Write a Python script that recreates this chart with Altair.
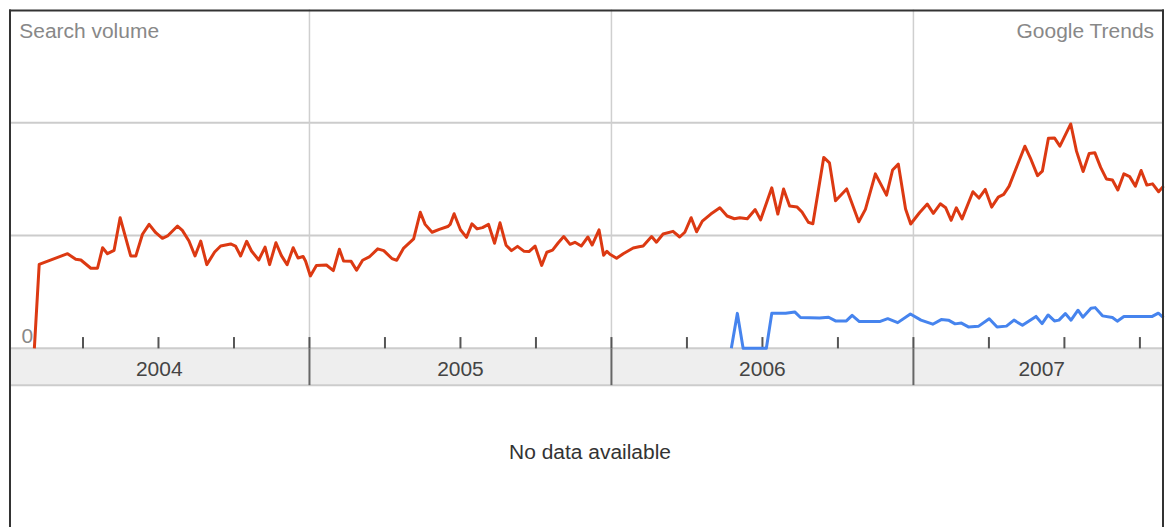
import altair as alt
import pandas as pd

# ---------------- data ----------------
red_year = [
    2004.089, 2004.105, 2004.199, 2004.226, 2004.243, 2004.276, 2004.298, 2004.315, 2004.331, 2004.353,
    2004.373, 2004.408, 2004.425, 2004.447, 2004.469, 2004.491, 2004.513, 2004.530, 2004.563, 2004.579,
    2004.601, 2004.621, 2004.640, 2004.660, 2004.686, 2004.706, 2004.739, 2004.755, 2004.772, 2004.792,
    2004.808, 2004.832, 2004.853, 2004.868, 2004.889, 2004.907, 2004.926, 2004.946, 2004.962, 2004.979,
    2004.987, 2005.003, 2005.023, 2005.056, 2005.079, 2005.099, 2005.113, 2005.138, 2005.156, 2005.176,
    2005.198, 2005.226, 2005.246, 2005.273, 2005.289, 2005.312, 2005.345, 2005.367, 2005.383, 2005.406,
    2005.430, 2005.458, 2005.466, 2005.479, 2005.500, 2005.520, 2005.538, 2005.555, 2005.573, 2005.593,
    2005.613, 2005.631, 2005.651, 2005.669, 2005.689, 2005.711, 2005.727, 2005.747, 2005.769, 2005.786,
    2005.805, 2005.824, 2005.842, 2005.863, 2005.879, 2005.900, 2005.922, 2005.936, 2005.959, 2005.974,
    2005.985, 2005.995, 2006.017, 2006.039, 2006.072, 2006.091, 2006.105, 2006.133, 2006.149, 2006.171,
    2006.204, 2006.226, 2006.243, 2006.264, 2006.282, 2006.301, 2006.329, 2006.359, 2006.383, 2006.407,
    2006.425, 2006.450, 2006.476, 2006.494, 2006.531, 2006.551, 2006.570, 2006.590, 2006.615, 2006.631,
    2006.652, 2006.667, 2006.703, 2006.722, 2006.742, 2006.779, 2006.819, 2006.841, 2006.874, 2006.911,
    2006.931, 2006.950, 2006.974, 2006.991, 2007.020, 2007.046, 2007.066, 2007.089, 2007.107, 2007.125,
    2007.142, 2007.161, 2007.197, 2007.217, 2007.238, 2007.259, 2007.281, 2007.299, 2007.317, 2007.345,
    2007.369, 2007.390, 2007.411, 2007.427, 2007.447, 2007.467, 2007.485, 2007.521, 2007.540, 2007.562,
    2007.582, 2007.601, 2007.620, 2007.639, 2007.659, 2007.677, 2007.697, 2007.716, 2007.735, 2007.754,
    2007.773, 2007.792, 2007.812, 2007.828,
]
red_volume = [
    0.000, 0.745, 0.839, 0.789, 0.783, 0.710, 0.710, 0.892, 0.839, 0.869,
    1.158, 0.819, 0.819, 1.011, 1.099, 1.025, 0.975, 0.996, 1.084, 1.046,
    0.951, 0.819, 0.951, 0.742, 0.854, 0.907, 0.925, 0.907, 0.819, 0.949,
    0.863, 0.783, 0.898, 0.742, 0.936, 0.822, 0.742, 0.892, 0.801, 0.814,
    0.774, 0.642, 0.735, 0.739, 0.689, 0.878, 0.774, 0.771, 0.692, 0.781,
    0.810, 0.882, 0.866, 0.796, 0.781, 0.889, 0.971, 1.206, 1.099, 1.029,
    1.055, 1.080, 1.099, 1.193, 1.051, 0.984, 1.104, 1.059, 1.070, 1.099,
    0.932, 1.113, 0.914, 0.866, 0.904, 0.860, 0.858, 0.907, 0.735, 0.852,
    0.870, 0.936, 0.991, 0.922, 0.940, 0.907, 0.987, 0.916, 1.050, 0.826,
    0.860, 0.834, 0.798, 0.839, 0.889, 0.900, 0.907, 0.991, 0.941, 1.013,
    1.037, 0.987, 1.029, 1.158, 1.033, 1.128, 1.190, 1.246, 1.173, 1.149,
    1.158, 1.148, 1.230, 1.139, 1.423, 1.190, 1.412, 1.261, 1.252, 1.208,
    1.118, 1.104, 1.692, 1.644, 1.309, 1.413, 1.122, 1.232, 1.547, 1.358,
    1.581, 1.633, 1.235, 1.102, 1.202, 1.279, 1.197, 1.281, 1.246, 1.135,
    1.246, 1.148, 1.388, 1.332, 1.409, 1.252, 1.341, 1.365, 1.438, 1.630,
    1.792, 1.670, 1.531, 1.571, 1.863, 1.865, 1.792, 1.989, 1.748, 1.568,
    1.728, 1.733, 1.604, 1.502, 1.493, 1.404, 1.547, 1.522, 1.438, 1.577,
    1.447, 1.458, 1.388, 1.438,
]
blue_year = [
    2006.397, 2006.417, 2006.436, 2006.513, 2006.531, 2006.577, 2006.607, 2006.626, 2006.689, 2006.719,
    2006.742, 2006.778, 2006.797, 2006.821, 2006.888, 2006.915, 2006.948, 2006.990, 2007.025, 2007.064,
    2007.092, 2007.116, 2007.138, 2007.159, 2007.182, 2007.215, 2007.251, 2007.277, 2007.308, 2007.333,
    2007.361, 2007.406, 2007.426, 2007.446, 2007.467, 2007.482, 2007.503, 2007.522, 2007.545, 2007.561,
    2007.588, 2007.602, 2007.626, 2007.659, 2007.675, 2007.697, 2007.791, 2007.811, 2007.828,
]
blue_volume = [
    0.000, 0.310, 0.000, 0.000, 0.312, 0.312, 0.323, 0.273, 0.270, 0.276,
    0.243, 0.243, 0.292, 0.237, 0.237, 0.263, 0.228, 0.305, 0.250, 0.214,
    0.255, 0.250, 0.217, 0.224, 0.190, 0.195, 0.263, 0.190, 0.197, 0.250,
    0.204, 0.283, 0.219, 0.296, 0.243, 0.250, 0.308, 0.250, 0.338, 0.276,
    0.356, 0.361, 0.288, 0.273, 0.241, 0.283, 0.283, 0.312, 0.273,
]

year_labels = ["2004", "2005", "2006", "2007"]
year_starts = [2004.0, 2005.0, 2006.0, 2007.0]
year_boundaries = [2005.0, 2006.0, 2007.0]
quarter_ticks = [2004.25, 2004.5, 2004.75, 2005.0, 2005.25, 2005.5, 2005.75,
                 2006.0, 2006.25, 2006.5, 2006.75, 2007.0, 2007.25, 2007.5, 2007.75]
grid_levels = [1.0, 2.0]

# ---------------- layout ----------------
X_MIN, X_MAX = 2004.005, 2007.8298
Y_MIN, Y_MAX = -1.5973, 3.004
BAND_BOTTOM = -0.326
W, H = 1157, 520
FONT = "Liberation Sans"
FS = 21

xs = alt.Scale(domain=[X_MIN, X_MAX], nice=False, zero=False)
ys = alt.Scale(domain=[Y_MIN, Y_MAX], nice=False, zero=False)

red = pd.DataFrame({"year": red_year, "volume": red_volume})
blue = pd.DataFrame({"year": blue_year, "volume": blue_volume})

band = alt.Chart(pd.DataFrame({"top": [0.0], "bottom": [BAND_BOTTOM]})).mark_rect(
    color="#eeeeee").encode(
    x=alt.value(0), x2=alt.value(W),
    y=alt.Y("top:Q", scale=ys, axis=None), y2="bottom:Q")

hlines = alt.Chart(pd.DataFrame({"level": grid_levels + [0.0, BAND_BOTTOM]})).mark_rule(
    color="#cccccc", strokeWidth=2).encode(
    y=alt.Y("level:Q", scale=ys, axis=None))

vgrid = alt.Chart(pd.DataFrame({"year": year_boundaries, "y0": 0.0, "y1": Y_MAX})).mark_rule(
    color="#cfcfcf", strokeWidth=1.5).encode(
    x=alt.X("year:Q", scale=xs, axis=None),
    y=alt.Y("y0:Q", scale=ys, axis=None), y2="y1:Q")

dividers = alt.Chart(pd.DataFrame({"year": year_boundaries, "y0": 0.0, "y1": BAND_BOTTOM})).mark_rule(
    color="#666666", strokeWidth=2).encode(
    x=alt.X("year:Q", scale=xs, axis=None),
    y=alt.Y("y0:Q", scale=ys, axis=None), y2="y1:Q")

ticks = alt.Chart(pd.DataFrame({"year": quarter_ticks, "y0": 0.0, "y1": 0.1})).mark_rule(
    color="#555555", strokeWidth=2).encode(
    x=alt.X("year:Q", scale=xs, axis=None),
    y=alt.Y("y0:Q", scale=ys, axis=None), y2="y1:Q")

lab = pd.DataFrame({"label": year_labels, "start": year_starts})
lab["mid"] = [(max(s, X_MIN) + min(s + 1, 2007.8496)) / 2 for s in year_starts]
lab["y"] = -0.243
year_text = alt.Chart(lab).mark_text(
    font=FONT, fontSize=FS, color="#444444", baseline="alphabetic", align="center").encode(
    x=alt.X("mid:Q", scale=xs, axis=None),
    y=alt.Y("y:Q", scale=ys, axis=None),
    text="label:N")

blue_line = alt.Chart(blue).mark_line(color="#4684ee", strokeWidth=3, strokeJoin="round").encode(
    x=alt.X("year:Q", scale=xs, axis=None),
    y=alt.Y("volume:Q", scale=ys, axis=None))

red_line = alt.Chart(red).mark_line(color="#dc3912", strokeWidth=3, strokeJoin="round").encode(
    x=alt.X("year:Q", scale=xs, axis=None),
    y=alt.Y("volume:Q", scale=ys, axis=None))

zero_label = alt.Chart(pd.DataFrame({"v": [0.0], "t": ["0"]})).mark_text(
    font=FONT, fontSize=FS, color="#888888", align="left", baseline="alphabetic", dy=-5.5).encode(
    x=alt.value(12.5), y=alt.Y("v:Q", scale=ys, axis=None), text="t:N")

search_label = alt.Chart(pd.DataFrame({"t": ["Search volume"]})).mark_text(
    font=FONT, fontSize=FS, color="#888888", align="left", baseline="alphabetic").encode(
    x=alt.value(10.3), y=alt.value(28.7), text="t:N")

brand_label = alt.Chart(pd.DataFrame({"t": ["Google Trends"]})).mark_text(
    font=FONT, fontSize=FS, color="#888888", align="right", baseline="alphabetic").encode(
    x=alt.value(1147), y=alt.value(28.7), text="t:N")

nodata_label = alt.Chart(pd.DataFrame({"t": ["No data available"]})).mark_text(
    font=FONT, fontSize=FS, color="#333333", align="center", baseline="alphabetic").encode(
    x=alt.value(582), y=alt.value(450), text="t:N")

# outer frame: left, right and top edges (bottom runs off the page)
frame_side = alt.Chart(pd.DataFrame({"edge": ["left", "right"], "px": [1, W - 1]})).mark_rule(
    color="#333333", strokeWidth=2).encode(
    x=alt.X("px:Q", scale=None), y=alt.value(0), y2=alt.value(H))
frame_top = alt.Chart(pd.DataFrame({"edge": ["top"]})).mark_rule(
    color="#333333", strokeWidth=2).encode(
    x=alt.value(0), x2=alt.value(W), y=alt.value(1))

chart = alt.layer(
    band, hlines, vgrid, dividers, ticks, year_text, blue_line, red_line,
    zero_label, search_label, brand_label, nodata_label, frame_side, frame_top,
).properties(
    width=W, height=H,
    padding={"left": 0, "top": 0, "right": 0, "bottom": 0},
    background="white",
).configure_view(stroke=None)

chart.save("out.html", embed_options={"renderer": "svg", "actions": False})
